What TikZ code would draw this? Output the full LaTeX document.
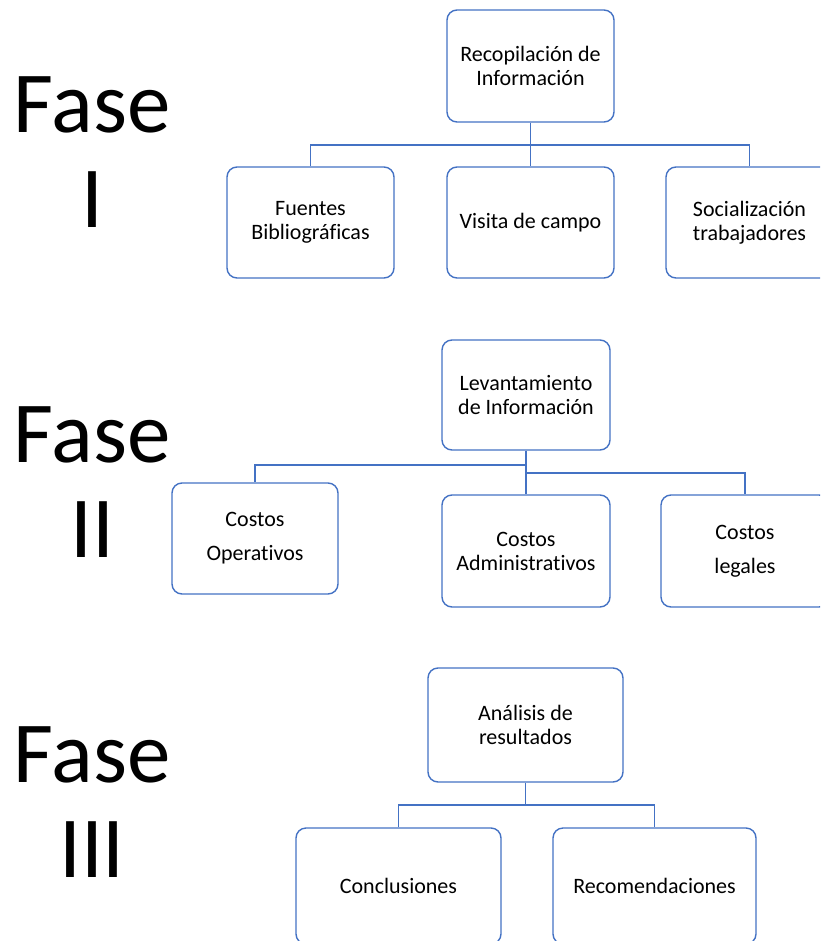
\documentclass[tikz,border=0pt]{standalone}
\usepackage{fontspec}
\setmainfont{Carlito}[Ligatures=NoCommon]
\definecolor{boxblue}{HTML}{4472C4}
\begin{document}
\begin{tikzpicture}[x=1pt,y=-1pt,
  box/.style={draw=boxblue, line width=1.4pt, rounded corners=10pt, align=center,
    inner sep=0pt, font=\fontsize{22}{24}\selectfont, fill=white},
  conn/.style={draw=boxblue, line width=1.4pt},
  fase/.style={anchor=base, font=\fontsize{87}{87}\selectfont}]
\useasboundingbox (0,0) rectangle (820,941);
\clip (0,0) rectangle (820,941);
% Fase labels
\node[fase] (fa1) at (92,133) {Fase};
\node[fase] (nu1) at (92,228) {I};
\node[fase] (fa2) at (92,462) {Fase};
\node[fase] (nu2) at (92,557) {II};
\node[fase] (fa3) at (92,782) {Fase};
\node[fase] (nu3) at (92,877) {III};
% Level 1
\node[box, minimum width=167pt, minimum height=112pt] (r1) at (530.5,66) {Recopilación de\\Información};
\node[box, minimum width=167pt, minimum height=111pt] (f1) at (310.5,222.5) {Fuentes\\Bibliográficas};
\node[box, minimum width=167pt, minimum height=111pt] (v1) at (530.5,222.5) {Visita de campo};
\node[box, minimum width=167pt, minimum height=111pt] (s1) at (749.5,222.5) {Socialización\\trabajadores};
\coordinate (j1) at (530.5,145);
\draw[conn] (r1.south) -- (j1) -- (v1.north);
\draw[conn] (f1.north) |- (j1) -| (s1.north);
% Level 2
\node[box, minimum width=168pt, minimum height=110pt] (l2) at (526,395) {Levantamiento\\de Información};
\node[box, minimum width=166pt, minimum height=111pt] (co) at (255,538.5) {Costos\\[10pt]Operativos};
\node[box, minimum width=168pt, minimum height=112pt] (ca) at (526,551) {Costos\\Administrativos};
\node[box, minimum width=168pt, minimum height=112pt] (cl) at (745,551) {Costos\\[10pt]legales};
\coordinate (j2a) at (526,465);
\coordinate (j2b) at (526,473);
\draw[conn] (l2.south) -- (ca.north);
\draw[conn] (j2a) -| (co.north);
\draw[conn] (j2b) -| (cl.north);
% Level 3
\node[box, minimum width=195pt, minimum height=114pt] (a3) at (525.5,725) {Análisis de\\resultados};
\node[box, minimum width=205pt, minimum height=116pt] (cn) at (398.5,886) {Conclusiones};
\node[box, minimum width=203pt, minimum height=116pt] (rc) at (654.5,886) {Recomendaciones};
\coordinate (j3) at (525.5,805);
\draw[conn] (a3.south) -- (j3);
\draw[conn] (cn.north) |- (j3) -| (rc.north);
\end{tikzpicture}
\end{document}
